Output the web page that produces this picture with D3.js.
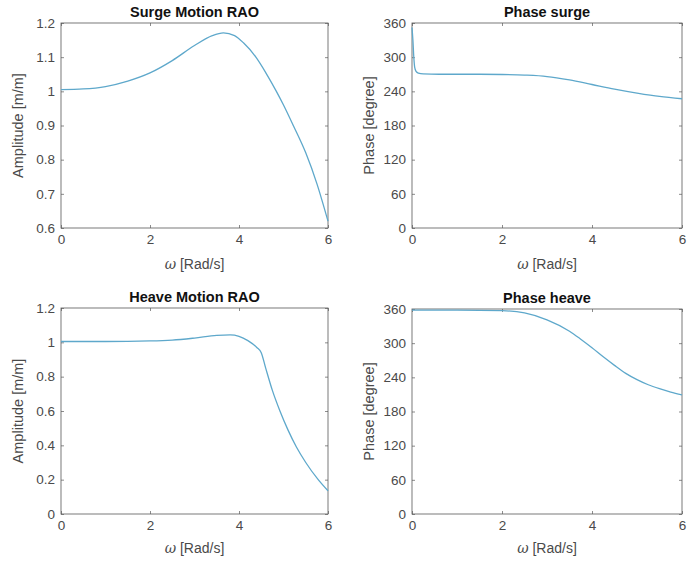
<!DOCTYPE html>
<html>
<head>
<meta charset="utf-8">
<script src="https://cdn.jsdelivr.net/npm/d3@7"></script>
<style>
  body { margin: 0; background: #fff; }
  svg { display: block; font-family: "Liberation Sans", Arial, sans-serif; }
  .domain { display: none; }
  .tick line { stroke: #5a5a5a; stroke-width: 0.7px; }
</style>
</head>
<body>
<script>
// ---- data ----
const omegaTicks = [0, 2, 4, 6];

const surgeAmpW = [0, 0.5, 1, 1.5, 2, 2.5, 3, 3.4, 3.65, 3.9, 4.1, 4.38, 4.6, 4.84, 5.0, 5.22, 5.5, 5.75, 6];
const surgeAmp  = [1.005, 1.007, 1.014, 1.03, 1.054, 1.09, 1.134, 1.163, 1.171, 1.163, 1.142, 1.1, 1.055, 1.0, 0.96, 0.9, 0.82, 0.73, 0.62];
const surgeAmpTicks = [0.6, 0.7, 0.8, 0.9, 1, 1.1, 1.2];

const surgePhW = [0, 0.02, 0.04, 0.06, 0.09, 0.14, 0.25, 0.6, 1, 1.5, 2, 2.5, 3, 3.5, 4, 4.5, 5, 5.5, 6];
const surgePh  = [352, 330, 300, 282, 275, 272, 270.5, 270, 270, 270, 269.6, 268.5, 266, 260, 252, 244, 237, 231, 227];

const heaveAmpW = [0, 1, 2, 2.5, 3, 3.5, 3.8, 4.0, 4.2, 4.4, 4.5, 4.6, 4.75, 4.92, 5.1, 5.29, 5.5, 5.78, 6];
const heaveAmp  = [1.005, 1.005, 1.008, 1.013, 1.025, 1.04, 1.043, 1.035, 1.01, 0.97, 0.94, 0.85, 0.72, 0.6, 0.49, 0.39, 0.3, 0.2, 0.135];
const heaveAmpTicks = [0, 0.2, 0.4, 0.6, 0.8, 1, 1.2];

const heavePhW = [0, 1, 2, 2.5, 3, 3.5, 3.75, 4.0, 4.25, 4.5, 4.75, 5.0, 5.25, 5.5, 5.75, 6];
const heavePh  = [358, 358, 357, 353, 341, 321, 307, 292, 276, 261, 247, 236, 227, 220, 214, 209];
const phaseTicks = [0, 60, 120, 180, 240, 300, 360];

const panels = [
  { title: "Surge Motion RAO", ylabel: "Amplitude [m/m]", w: surgeAmpW, v: surgeAmp, yd: [0.6, 1.2], yt: surgeAmpTicks,
    x0: 61, x1: 328, y0: 23, y1: 228, xl: 41 },
  { title: "Phase surge", ylabel: "Phase [degree]", w: surgePhW, v: surgePh, yd: [0, 360], yt: phaseTicks,
    x0: 412, x1: 682, y0: 23, y1: 228, xl: 41 },
  { title: "Heave Motion RAO", ylabel: "Amplitude [m/m]", w: heaveAmpW, v: heaveAmp, yd: [0, 1.2], yt: heaveAmpTicks,
    x0: 61, x1: 328, y0: 308, y1: 514, xl: 39 },
  { title: "Phase heave", ylabel: "Phase [degree]", w: heavePhW, v: heavePh, yd: [0, 360], yt: phaseTicks,
    x0: 412, x1: 682, y0: 309, y1: 514, xl: 39 }
];

const svg = d3.select("body").append("svg").attr("width", 699).attr("height", 561);

panels.forEach(p => {
  const x = d3.scaleLinear().domain([0, 6]).range([p.x0, p.x1]);
  const y = d3.scaleLinear().domain(p.yd).range([p.y1, p.y0]);
  const g = svg.append("g");
  const fmt = d => String(+d.toFixed(2));

  g.append("rect")
    .attr("x", p.x0).attr("y", p.y0)
    .attr("width", p.x1 - p.x0).attr("height", p.y1 - p.y0)
    .style("fill", "#fff").style("stroke", "#6a6a6a").style("stroke-width", "0.9px");

  g.append("g").attr("transform", "translate(0," + p.y1 + ")")
    .call(d3.axisBottom(x).tickValues(omegaTicks).tickFormat(fmt).tickSize(-3).tickPadding(6));
  g.append("g").attr("transform", "translate(0," + p.y0 + ")")
    .call(d3.axisTop(x).tickValues(omegaTicks).tickFormat("").tickSize(-3));
  g.append("g").attr("transform", "translate(" + p.x0 + ",0)")
    .call(d3.axisLeft(y).tickValues(p.yt).tickFormat(fmt).tickSize(-3).tickPadding(6));
  g.append("g").attr("transform", "translate(" + p.x1 + ",0)")
    .call(d3.axisRight(y).tickValues(p.yt).tickFormat("").tickSize(-3));
  g.selectAll(".tick text")
    .attr("font-family", null).attr("font-size", null)
    .style("font-size", "13.5px").style("fill", "#4a4a4a");

  const line = d3.line()
    .x((d, i) => x(p.w[i]))
    .y(d => y(d))
    .curve(d3.curveMonotoneX);

  g.append("path")
    .datum(p.v)
    .attr("d", line)
    .style("fill", "none")
    .style("stroke", "#5ea8cb")
    .style("stroke-width", "1.3px");

  g.append("text")
    .attr("x", (p.x0 + p.x1) / 2).attr("y", p.y0 - 6)
    .attr("text-anchor", "middle")
    .style("font-size", "14.5px").style("font-weight", "bold").style("fill", "#111")
    .text(p.title);

  const xl = g.append("text")
    .attr("x", (p.x0 + p.x1) / 2).attr("y", p.y1 + p.xl)
    .attr("text-anchor", "middle")
    .style("font-size", "14px").style("fill", "#4a4a4a");
  xl.append("tspan").style("font-family", "'DejaVu Serif', serif").style("font-style", "italic").text("ω");
  xl.append("tspan").text(" [Rad/s]");

  g.append("text")
    .attr("transform", "translate(" + (p.x0 - 38) + "," + ((p.y0 + p.y1) / 2) + ") rotate(-90)")
    .attr("text-anchor", "middle")
    .style("font-size", "14.5px").style("fill", "#4a4a4a")
    .text(p.ylabel);
});
</script>
</body>
</html>
